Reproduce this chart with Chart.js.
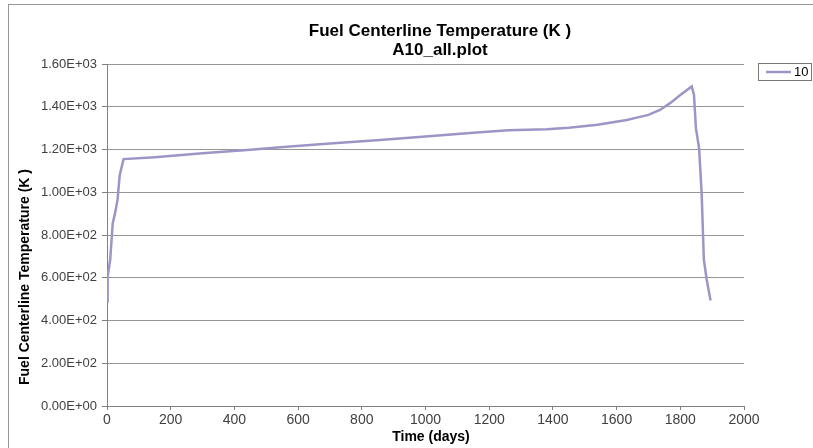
<!DOCTYPE html>
<html>
<head>
<meta charset="utf-8">
<title>Fuel Centerline Temperature</title>
<script src="https://cdn.jsdelivr.net/npm/chart.js@4/dist/chart.umd.min.js"></script>
<style>
    html, body { margin: 0; padding: 0; background: #ffffff; }
    #tempChart { display: block; }
</style>
</head>
<body>
<canvas id="tempChart" width="813" height="448"></canvas>
<script>
// values
const chartTitle = ['Fuel Centerline Temperature (K )', 'A10_all.plot'];
const xTitle = 'Time (days)';
const yTitle = 'Fuel Centerline Temperature (K )';
const seriesName = '10';

const days = [0, 2, 10, 18, 25, 33, 40, 52, 150, 300, 429, 450, 544, 700, 857, 1000,
    1150, 1260, 1381, 1450, 1540, 1632, 1660, 1700, 1736, 1768, 1800, 1836,
    1843, 1849, 1859, 1867, 1874, 1883, 1895];
const temps = [489, 606, 684, 855, 900, 964, 1081, 1155, 1164, 1182, 1197, 1199, 1211, 1228, 1245, 1261,
    1278, 1290, 1295, 1302, 1316, 1338, 1348, 1362, 1385, 1417, 1455, 1495,
    1455, 1300, 1206, 996, 684, 591, 494];

const xTicks = [0, 200, 400, 600, 800, 1000, 1200, 1400, 1600, 1800, 2000];
const yTicks = [0, 200, 400, 600, 800, 1000, 1200, 1400, 1600];

const lineColor = 'rgb(158, 148, 198)';
const gridColor = 'rgb(150, 150, 150)';
const axisColor = 'rgb(128, 128, 128)';
const labelColor = '#404040';
const fontFamily = "Arial, 'Liberation Sans', sans-serif";

function sciLabel(v) {
    if (v === 0) return '0.00E+00';
    const e = Math.floor(Math.log10(Math.abs(v)));
    const m = v / Math.pow(10, e);
    return m.toFixed(2) + 'E' + (e < 0 ? '-' : '+') + String(Math.abs(e)).padStart(2, '0');
}

// frame, titles and legend drawn like the spreadsheet chart
const decorations = {
    id: 'decorations',
    beforeDraw(chart) {
        const ctx = chart.ctx;
        ctx.save();
        ctx.fillStyle = '#ffffff';
        ctx.fillRect(0, 0, chart.width, chart.height);
        ctx.strokeStyle = 'rgb(150, 150, 150)';
        ctx.lineWidth = 1;
        ctx.strokeRect(8.5, 4.5, 900, 600);
        ctx.restore();
    },
    afterDraw(chart) {
        const ctx = chart.ctx;
        ctx.save();
        ctx.fillStyle = '#000000';
        ctx.textAlign = 'center';
        ctx.textBaseline = 'middle';
        ctx.font = 'bold 17px ' + fontFamily;
        ctx.fillText(chartTitle[0], 440, 31);
        ctx.fillText(chartTitle[1], 440, 50);

        ctx.font = 'bold 14px ' + fontFamily;
        ctx.fillText(xTitle, 431, 437);

        ctx.translate(25, 277);
        ctx.rotate(-Math.PI / 2);
        ctx.fillText(yTitle, 0, 0);
        ctx.restore();

        // legend box
        ctx.save();
        ctx.strokeStyle = 'rgb(120, 120, 120)';
        ctx.lineWidth = 1;
        ctx.strokeRect(758.5, 63.5, 53, 17);
        ctx.strokeStyle = lineColor;
        ctx.lineWidth = 2.5;
        ctx.beginPath();
        ctx.moveTo(766, 72);
        ctx.lineTo(791, 72);
        ctx.stroke();
        ctx.fillStyle = '#000000';
        ctx.font = '13px ' + fontFamily;
        ctx.textAlign = 'left';
        ctx.textBaseline = 'middle';
        ctx.fillText(seriesName, 794, 72);
        ctx.restore();
    }
};

document.addEventListener('DOMContentLoaded', function () {
    const ctx = document.getElementById('tempChart').getContext('2d');
    const points = days.map((d, i) => ({ x: d, y: temps[i] }));

    new Chart(ctx, {
        type: 'line',
        data: {
            datasets: [{
                label: seriesName,
                data: points,
                borderColor: lineColor,
                borderWidth: 2.5,
                pointRadius: 0,
                tension: 0,
                fill: false
            }]
        },
        options: {
            responsive: false,
            maintainAspectRatio: false,
            animation: false,
            layout: {
                padding: { top: 64, left: 0, right: 69, bottom: 0 }
            },
            scales: {
                x: {
                    type: 'linear',
                    min: 0,
                    max: 2000,
                    afterFit: function (scale) { scale.height = 42; },
                    afterBuildTicks: function (scale) {
                        scale.ticks = xTicks.map(v => ({ value: v }));
                    },
                    grid: {
                        drawOnChartArea: false,
                        drawTicks: true,
                        tickLength: 4,
                        tickColor: axisColor
                    },
                    border: { display: true, color: axisColor },
                    ticks: {
                        padding: 2,
                        maxRotation: 0,
                        color: labelColor,
                        font: { family: fontFamily, size: 14 },
                        callback: function (value) { return String(value); }
                    }
                },
                y: {
                    min: 0,
                    max: 1600,
                    afterFit: function (scale) { scale.width = 107; },
                    afterBuildTicks: function (scale) {
                        scale.ticks = yTicks.map(v => ({ value: v }));
                    },
                    grid: {
                        color: gridColor,
                        lineWidth: 1,
                        drawTicks: true,
                        tickLength: 5,
                        tickColor: axisColor
                    },
                    border: { display: true, color: axisColor },
                    ticks: {
                        padding: 5,
                        color: labelColor,
                        font: { family: fontFamily, size: 13 },
                        callback: function (value) { return sciLabel(value); }
                    }
                }
            },
            plugins: {
                legend: { display: false },
                title: { display: false },
                tooltip: { enabled: false }
            }
        },
        plugins: [decorations]
    });
});
</script>
</body>
</html>
